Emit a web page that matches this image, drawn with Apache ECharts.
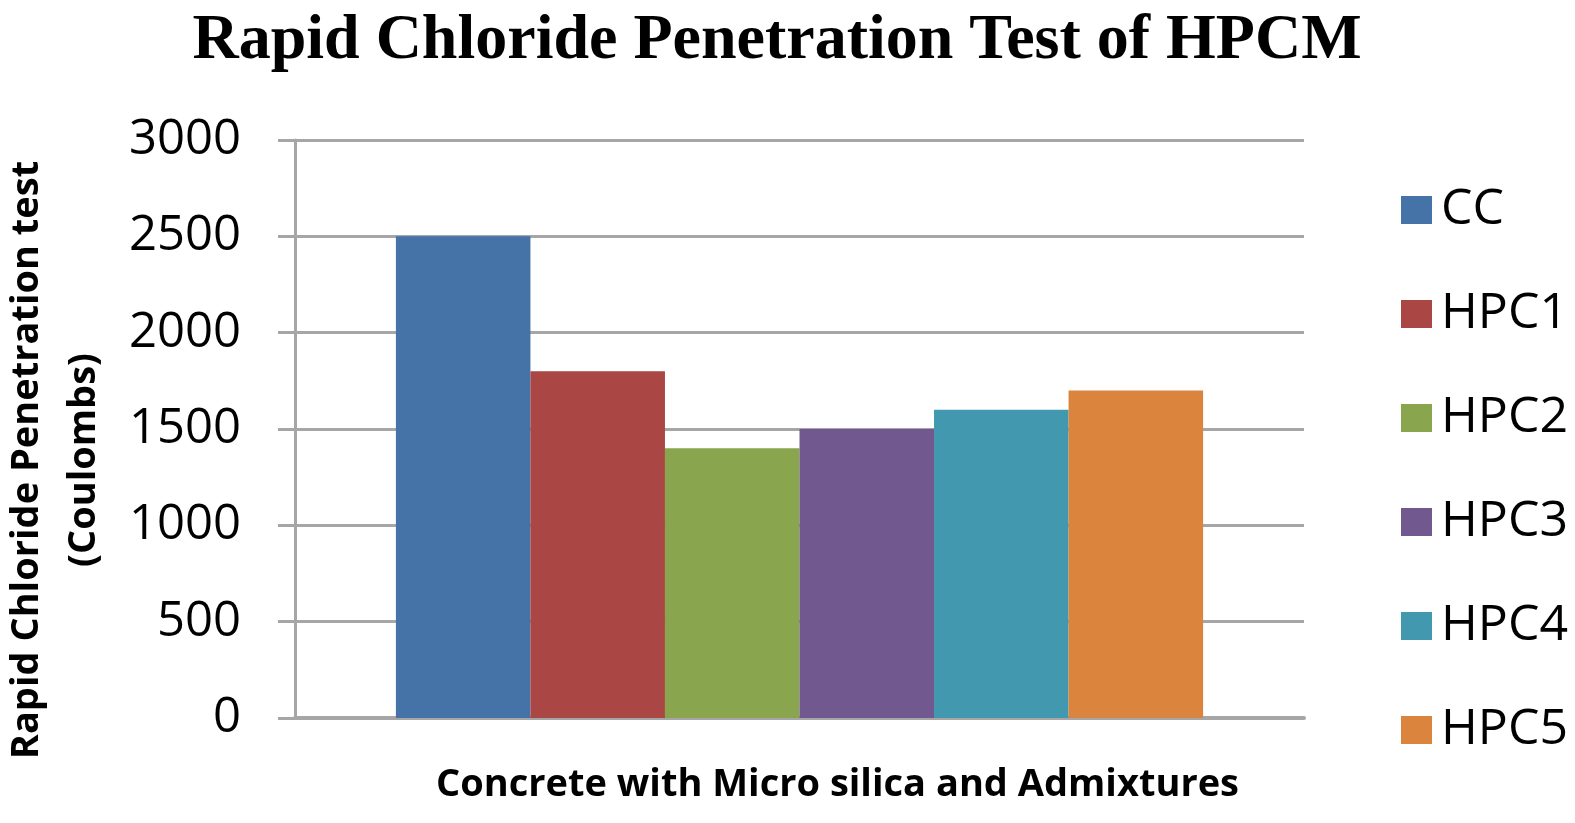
<!DOCTYPE html>
<html>
<head>
<meta charset="utf-8">
<script src="https://cdn.jsdelivr.net/npm/echarts@6/dist/echarts.min.js"></script>
<style>html,body{margin:0;padding:0;background:#fff}#c{width:1575px;height:823px}</style>
</head>
<body>
<div id="c"></div>
<script>
const categories = ['Concrete with Micro silica and Admixtures'];
const seriesNames = ['CC', 'HPC1', 'HPC2', 'HPC3', 'HPC4', 'HPC5'];
const seriesValues = [2500, 1800, 1400, 1500, 1600, 1700];
const seriesColors = ['#4572A7', '#AA4643', '#89A54E', '#71588F', '#4198AF', '#DB843D'];
const yTicks = [0, 500, 1000, 1500, 2000, 2500, 3000];

const chart = echarts.init(document.getElementById('c'), null, {renderer: 'canvas'});
const gray = '#A6A6A6';
chart.setOption({
  animation: false,
  backgroundColor: '#fff',
  title: {
    text: 'Rapid Chloride Penetration Test of HPCM',
    left: 772, top: 4, textAlign: 'center',
    textStyle: {fontFamily: 'Liberation Serif', fontWeight: 'bold', fontSize: 64, color: '#000'}
  },
  legend: {
    orient: 'vertical', left: 1396, top: 180,
    itemWidth: 31, itemHeight: 28, itemGap: 54, icon: 'rect',
    textStyle: {fontFamily: 'Open Sans', fontSize: 50, color: '#000', padding: [0, 0, 0, 4]},
    data: seriesNames
  },
  grid: {left: 295, right: 271, top: 140, bottom: 105, containLabel: false, outerBoundsMode: 'none'},
  xAxis: {
    type: 'category', data: categories,
    axisLine: {show: true, lineStyle: {color: gray, width: 4}},
    axisTick: {show: false},
    axisLabel: {show: false},
    name: categories[0], nameLocation: 'middle', nameGap: 48,
    nameTextStyle: {fontFamily: 'Open Sans', fontWeight: 'bold', fontSize: 38, color: '#000', padding: [0, 0, 0, 76]}
  },
  yAxis: {
    type: 'value', min: yTicks[0], max: yTicks[yTicks.length - 1], interval: 500,
    axisLine: {show: true, lineStyle: {color: gray, width: 3}},
    axisTick: {show: true, length: 17, lineStyle: {color: gray, width: 3}},
    splitLine: {show: true, lineStyle: {color: gray, width: 3}},
    axisLabel: {margin: 54, fontFamily: 'Open Sans', fontSize: 49, color: '#000', formatter: v => String(v)},
    name: 'Rapid Chloride Penetration test\n(Coulombs)',
    nameLocation: 'middle', nameRotate: 90, nameGap: 182,
    nameTextStyle: {fontFamily: 'Open Sans', fontWeight: 'bold', fontSize: 38, color: '#000', lineHeight: 57, padding: [0, 62, 0, 0]}
  },
  series: seriesNames.map((n, i) => ({
    name: n, type: 'bar',
    data: [seriesValues[i]],
    itemStyle: {color: seriesColors[i]},
    barGap: '0%', barCategoryGap: '20%'
  }))
});
</script>
</body>
</html>
